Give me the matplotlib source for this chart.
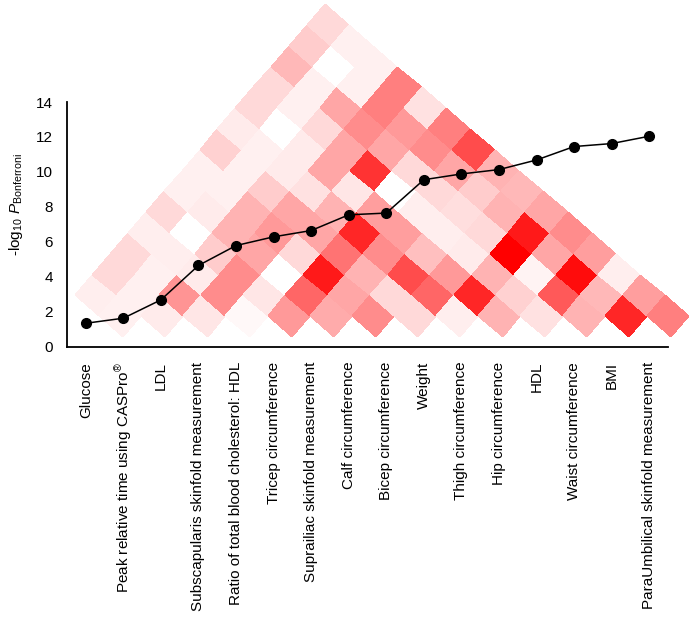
import numpy as np
import matplotlib
matplotlib.use('Agg')
import matplotlib.pyplot as plt
from matplotlib.colors import LinearSegmentedColormap
from matplotlib.transforms import Affine2D

plt.rcParams['font.family'] = ['Liberation Sans', 'DejaVu Sans']
plt.rcParams['font.size'] = 11
plt.rcParams['mathtext.fontset'] = 'custom'
plt.rcParams['mathtext.rm'] = 'Liberation Sans'
plt.rcParams['mathtext.it'] = 'Liberation Sans:italic'

traits = ['Glucose', 'Peak relative time using CASPro$^{\\mathrm{®}}$', 'LDL',
          'Subscapularis skinfold measurement', 'Ratio of total blood cholesterol: HDL',
          'Tricep circumference', 'Suprailiac skinfold measurement', 'Calf circumference',
          'Bicep circumference', 'Weight', 'Thigh circumference', 'Hip circumference',
          'HDL', 'Waist circumference', 'BMI', 'ParaUmbilical skinfold measurement']
neg_log_p = [1.33, 1.62, 2.67, 4.64, 5.78, 6.28, 6.64, 7.54, 7.64,
             9.55, 9.88, 10.13, 10.68, 11.45, 11.62, 12.04]

# pairwise correlation strength (0 = white, 1 = red), one list per lag b - a
lag1 = [0.0, 0.06, 0.08, 0.10, 0.03, 0.40, 0.33, 0.45, 0.15, 0.07, 0.30, 0.12, 0.30, 0.85, 0.50]
lag2 = [0.07, 0.06, 0.42, 0.45, 0.10, 0.60, 0.35, 0.15, 0.60, 0.85, 0.18, 0.65, 0.28, 0.38]
lag3 = [0.15, 0.06, 0.08, 0.45, 0.0, 0.90, 0.30, 0.70, 0.40, 0.30, 0.05, 0.95, 0.07]
lag4 = [0.15, 0.07, 0.20, 0.35, 0.15, 0.55, 0.45, 0.25, 0.08, 1.0, 0.35, 0.38]
lag5 = [0.07, 0.0, 0.30, 0.40, 0.35, 0.85, 0.38, 0.07, 0.15, 0.90, 0.45]
lag6 = [0.15, 0.08, 0.30, 0.35, 0.30, 0.38, 0.07, 0.13, 0.30, 0.35]
lag7 = [0.06, 0.06, 0.20, 0.12, 0.10, 0.0, 0.15, 0.20, 0.28]
lag8 = [0.06, 0.06, 0.08, 0.35, 0.80, 0.15, 0.35, 0.30]
lag9 = [0.18, 0.06, 0.08, 0.35, 0.35, 0.45, 0.70]
lag10 = [0.08, 0.0, 0.15, 0.45, 0.40, 0.50]
lag11 = [0.15, 0.06, 0.35, 0.50, 0.12]
lag12 = [0.15, 0.06, 0.06, 0.50]
lag13 = [0.28, 0.0, 0.06]
lag14 = [0.20, 0.06]
lag15 = [0.15]
lags = [lag1, lag2, lag3, lag4, lag5, lag6, lag7, lag8, lag9, lag10,
        lag11, lag12, lag13, lag14, lag15]

n = len(traits)
mat = np.full((n - 1, n - 1), np.nan)
for d, row in enumerate(lags, start=1):
    for a, val in enumerate(row):
        mat[a + d - 1, a] = val
mat = np.ma.masked_invalid(mat)

W, H = 697, 620
fig = plt.figure(figsize=(W / 100, H / 100), dpi=100)

# heatmap layer: x = variable index, y = half the lag, with a small shear
hm = fig.add_axes([0, 0, 1, 1], zorder=0)
cell_w, cell_h, x0, y0 = 42.15, 41.6, 60, 337
hm.set_xlim(-x0 / cell_w, (W - x0) / cell_w)
hm.set_ylim(-(H - y0) / cell_h, y0 / cell_h)
hm.axis('off')
k = 0.153
rot = Affine2D(np.array([[(1 + k) / 2, (1 - k) / 2, 0],
                         [-0.5, 0.5, 0],
                         [0, 0, 1]]))
cmap = LinearSegmentedColormap.from_list('wr', ['#ffffff', '#ff0000'])
a_edges = np.arange(n) - 0.5
b_edges = np.arange(n) + 0.5
hm.pcolormesh(a_edges, b_edges, mat, cmap=cmap, vmin=0, vmax=1,
              transform=rot + hm.transData)

# line chart on top
ax = fig.add_axes([67 / W, (H - 346.5) / H, 601 / W, 244.5 / H], zorder=1)
ax.patch.set_alpha(0)
x = np.arange(n)
ax.plot(x, neg_log_p, color='black', lw=1.1, marker='o', ms=7, zorder=3)
ax.set_xlim(-0.5, n - 0.5)
ax.set_ylim(0, 14)
ax.set_yticks(range(0, 15, 2))
ax.set_xticks(x)
ax.set_xticklabels(traits, rotation=90, va='top', ha='center')
ax.tick_params(axis='both', length=0, labelsize=11)
ax.tick_params(axis='x', pad=11)
ax.tick_params(axis='y', pad=10)
for s in ['top', 'right']:
    ax.spines[s].set_visible(False)
for s in ['left', 'bottom']:
    ax.spines[s].set_linewidth(1.3)
ax.set_ylabel('-log$_{10}$ $P_{\\mathrm{Bonferroni}}$', fontsize=11)
ax.yaxis.set_label_coords(-0.07, 0.58)

fig.savefig('out.png', dpi=100)
